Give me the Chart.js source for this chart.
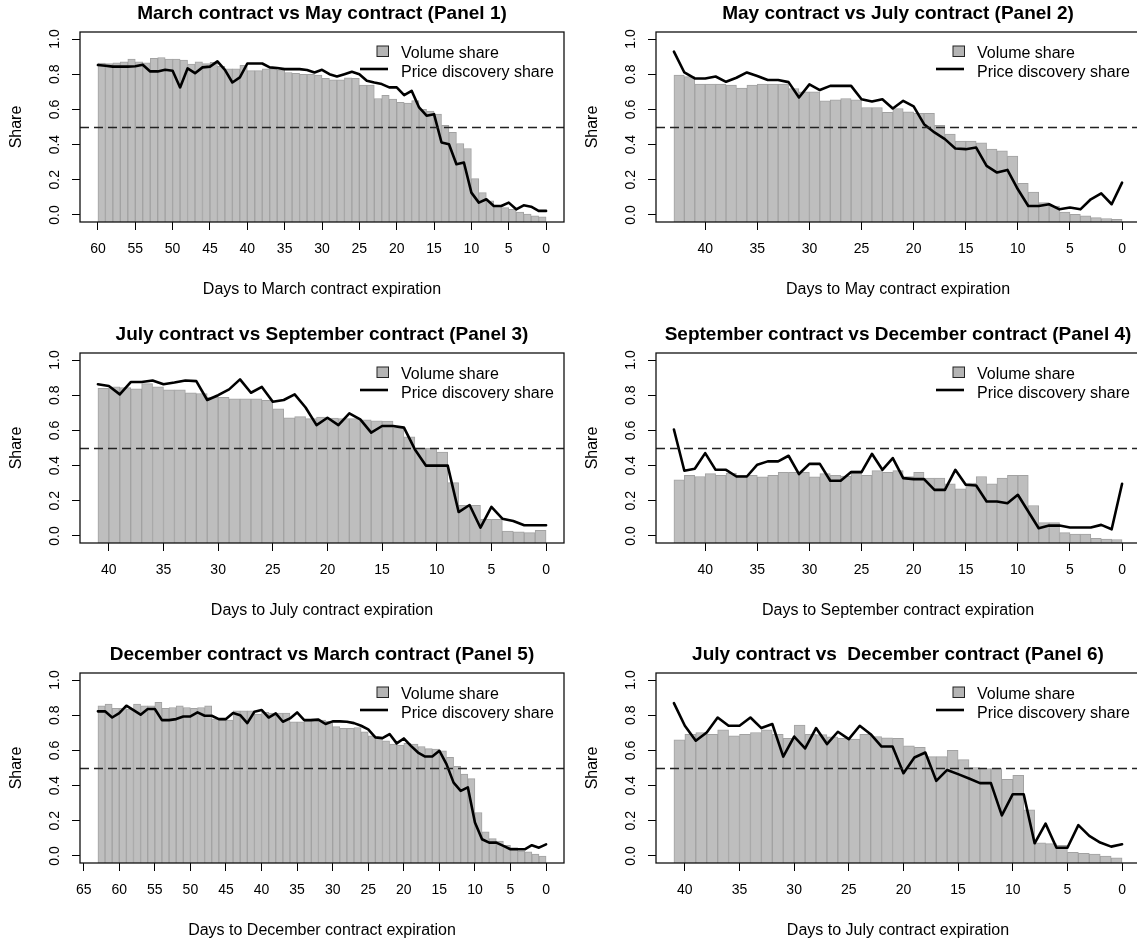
<!DOCTYPE html>
<html>
<head>
<meta charset="utf-8">
<script src="https://cdn.jsdelivr.net/npm/chart.js@4.4.1/dist/chart.umd.min.js"></script>
<style>
  html, body { margin: 0; padding: 0; background: #fff; overflow: hidden; }
  #wrap { position: relative; width: 1137px; height: 940px; overflow: hidden; }
  .panel { position: absolute; width: 576px; height: 320px; }
  .panel canvas { display: block; }
</style>
</head>
<body>
<div id="wrap"></div>
<script>
/* ========================================
   Datos
======================================== */
const panelTitles = [
  'March contract vs May contract (Panel 1)',
  'May contract vs July contract (Panel 2)',
  'July contract vs September contract (Panel 3)',
  'September contract vs December contract (Panel 4)',
  'December contract vs March contract (Panel 5)',
  'July contract vs  December contract (Panel 6)'
];
const xTitles = [
  'Days to March contract expiration',
  'Days to May contract expiration',
  'Days to July contract expiration',
  'Days to September contract expiration',
  'Days to December contract expiration',
  'Days to July contract expiration'
];
const legendLabels = ['Volume share', 'Price discovery share'];
const yTitle = 'Share';

const yTicks   = [0, 0.2, 0.4, 0.6, 0.8, 1.0];
const xTicks60 = [60, 55, 50, 45, 40, 35, 30, 25, 20, 15, 10, 5, 0];
const xTicks40 = [40, 35, 30, 25, 20, 15, 10, 5, 0];
const xTicks65 = [65, 60, 55, 50, 45, 40, 35, 30, 25, 20, 15, 10, 5, 0];

// volumen: una barra por día (de más lejos a vencimiento); precio: un punto por día hasta 0
const vol1 = [0.863, 0.86, 0.865, 0.87, 0.886, 0.87, 0.865, 0.89, 0.895, 0.886, 0.886, 0.88, 0.858, 0.87, 0.86,
  0.867, 0.845, 0.83, 0.83, 0.85, 0.82, 0.82, 0.83, 0.83, 0.825, 0.81, 0.805, 0.80, 0.80, 0.795,
  0.776, 0.768, 0.768, 0.78, 0.776, 0.738, 0.738, 0.662, 0.68, 0.658, 0.64, 0.636, 0.65, 0.60, 0.59,
  0.573, 0.51, 0.469, 0.406, 0.378, 0.207, 0.127, 0.08, 0.051, 0.042, 0.032, 0.017, 0.005, -0.005, -0.01];
const price1 = [0.852, 0.848, 0.843, 0.843, 0.843, 0.845, 0.854, 0.816, 0.816, 0.825, 0.82, 0.725, 0.833, 0.806, 0.839,
  0.843, 0.873, 0.825, 0.753, 0.782, 0.861, 0.861, 0.861, 0.839, 0.835, 0.829, 0.829, 0.829, 0.824, 0.81,
  0.825, 0.80, 0.787, 0.80, 0.814, 0.80, 0.763, 0.753, 0.744, 0.725, 0.725, 0.681, 0.706, 0.611, 0.564,
  0.573, 0.412, 0.402, 0.288, 0.298, 0.127, 0.07, 0.089, 0.051, 0.051, 0.07, 0.032, 0.055, 0.047, 0.023, 0.023];

const vol2 = [0.795, 0.786, 0.744, 0.744, 0.744, 0.738, 0.721, 0.738, 0.744, 0.744, 0.744, 0.719, 0.70, 0.70, 0.649,
  0.655, 0.662, 0.655, 0.611, 0.611, 0.583, 0.605, 0.586, 0.577, 0.577, 0.51, 0.46, 0.42, 0.42, 0.41,
  0.375, 0.365, 0.335, 0.18, 0.13, 0.07, 0.05, 0.017, 0.004, -0.005, -0.015, -0.02, -0.025];
const price2 = [0.928, 0.81, 0.776, 0.776, 0.787, 0.757, 0.78, 0.81, 0.79, 0.767, 0.767, 0.755, 0.668, 0.742, 0.71,
  0.734, 0.734, 0.734, 0.658, 0.645, 0.658, 0.605, 0.649, 0.617, 0.516, 0.469, 0.431, 0.378, 0.374, 0.383,
  0.279, 0.241, 0.256, 0.146, 0.051, 0.051, 0.061, 0.032, 0.042, 0.032, 0.089, 0.123, 0.061, 0.184];

const vol3 = [0.839, 0.847, 0.843, 0.837, 0.866, 0.847, 0.83, 0.83, 0.814, 0.81, 0.79, 0.788, 0.78, 0.78, 0.78,
  0.771, 0.723, 0.672, 0.678, 0.667, 0.676, 0.67, 0.667, 0.667, 0.66, 0.655, 0.653, 0.616, 0.564, 0.50,
  0.50, 0.477, 0.303, 0.174, 0.174, 0.095, 0.095, 0.028, 0.023, 0.019, 0.032];
const price3 = [0.862, 0.852, 0.805, 0.875, 0.875, 0.884, 0.862, 0.872, 0.884, 0.88, 0.773, 0.80, 0.833, 0.89, 0.814,
  0.847, 0.763, 0.773, 0.805, 0.73, 0.63, 0.672, 0.63, 0.697, 0.663, 0.587, 0.625, 0.625, 0.616, 0.492,
  0.40, 0.40, 0.40, 0.136, 0.176, 0.047, 0.165, 0.098, 0.085, 0.061, 0.061, 0.061];

const vol4 = [0.319, 0.344, 0.338, 0.354, 0.344, 0.357, 0.344, 0.344, 0.336, 0.344, 0.361, 0.361, 0.361, 0.336, 0.354,
  0.344, 0.34, 0.37, 0.344, 0.371, 0.361, 0.371, 0.338, 0.361, 0.329, 0.329, 0.297, 0.268, 0.30, 0.338,
  0.297, 0.329, 0.344, 0.344, 0.173, 0.076, 0.076, 0.019, 0.01, 0.01, -0.013, -0.018, -0.02];
const price4 = [0.605, 0.371, 0.382, 0.471, 0.376, 0.376, 0.338, 0.338, 0.405, 0.424, 0.424, 0.456, 0.352, 0.41, 0.41,
  0.314, 0.314, 0.363, 0.363, 0.467, 0.376, 0.443, 0.329, 0.323, 0.323, 0.262, 0.262, 0.376, 0.291, 0.287,
  0.196, 0.196, 0.186, 0.234, 0.139, 0.044, 0.059, 0.059, 0.048, 0.048, 0.048, 0.063, 0.038, 0.297];

const vol5 = [0.854, 0.863, 0.839, 0.839, 0.835, 0.863, 0.854, 0.854, 0.873, 0.839, 0.844, 0.854, 0.844, 0.839, 0.844,
  0.854, 0.78, 0.772, 0.772, 0.825, 0.825, 0.825, 0.806, 0.816, 0.812, 0.812, 0.812, 0.763, 0.763, 0.768,
  0.78, 0.772, 0.765, 0.735, 0.725, 0.725, 0.73, 0.706, 0.683, 0.674, 0.655, 0.636, 0.63, 0.64, 0.636,
  0.622, 0.61, 0.607, 0.598, 0.56, 0.51, 0.465, 0.44, 0.247, 0.137, 0.099, 0.085, 0.061, 0.047, 0.028,
  0.023, 0.01, 0.0];
const price5 = [0.822, 0.822, 0.787, 0.812, 0.854, 0.829, 0.803, 0.835, 0.835, 0.772, 0.772, 0.778, 0.793, 0.793, 0.816,
  0.797, 0.797, 0.778, 0.778, 0.812, 0.80, 0.755, 0.82, 0.83, 0.787, 0.81, 0.763, 0.782, 0.816, 0.772,
  0.772, 0.775, 0.75, 0.765, 0.765, 0.763, 0.755, 0.74, 0.72, 0.674, 0.67, 0.693, 0.64, 0.668, 0.626,
  0.588, 0.565, 0.565, 0.598, 0.522, 0.417, 0.37, 0.39, 0.19, 0.095, 0.076, 0.076, 0.057, 0.038, 0.038,
  0.038, 0.061, 0.047, 0.066];

const vol6 = [0.66, 0.692, 0.702, 0.692, 0.717, 0.683, 0.692, 0.702, 0.717, 0.692, 0.668, 0.744, 0.692, 0.69, 0.677,
  0.668, 0.664, 0.692, 0.679, 0.672, 0.668, 0.626, 0.617, 0.565, 0.565, 0.60, 0.548, 0.503, 0.497, 0.497,
  0.436, 0.459, 0.262, 0.075, 0.07, 0.06, 0.02, 0.015, 0.01, 0.0, -0.01];
const price6 = [0.869, 0.74, 0.655, 0.702, 0.787, 0.74, 0.74, 0.787, 0.727, 0.75, 0.565, 0.679, 0.611, 0.727, 0.636,
  0.706, 0.664, 0.74, 0.692, 0.622, 0.622, 0.47, 0.56, 0.588, 0.427, 0.489, 0.465, 0.44, 0.414, 0.414,
  0.231, 0.351, 0.351, 0.072, 0.184, 0.047, 0.047, 0.175, 0.114, 0.076, 0.053, 0.066];

/* ========================================
   Estilos
======================================== */
const FONT = '"Liberation Sans", Arial, Helvetica, sans-serif';
Chart.defaults.font.family = FONT;
Chart.defaults.color = '#000';

const PANEL_W = 576, PANEL_H = 320;
const rowTops = [0, 321, 641];

/* ========================================
   Plugin: caja, línea 0.5, título y leyenda
======================================== */
const panelDecor = {
  id: 'panelDecor',
  afterDatasetsDraw(chart, args, opts) {
    const { ctx, chartArea: a, scales: { y } } = chart;
    ctx.save();

    // línea discontinua en 0.5
    const yh = Math.round(y.getPixelForValue(0.5)) + 0.5;
    ctx.strokeStyle = '#222';
    ctx.lineWidth = 1.3;
    ctx.setLineDash([9, 5]);
    ctx.beginPath();
    ctx.moveTo(a.left, yh);
    ctx.lineTo(a.right, yh);
    ctx.stroke();
    ctx.setLineDash([]);

    // caja
    ctx.strokeStyle = '#111';
    ctx.lineWidth = 1.3;
    ctx.strokeRect(a.left, a.top, a.right - a.left, a.bottom - a.top);

    // título
    ctx.fillStyle = '#000';
    ctx.font = `bold 19px ${FONT}`;
    ctx.textAlign = 'center';
    ctx.textBaseline = 'alphabetic';
    ctx.fillText(opts.title, (a.left + a.right) / 2, a.top - 13);

    // leyenda (arriba a la derecha)
    const tx = a.right - 163;
    ctx.fillStyle = '#b4b4b4';
    ctx.strokeStyle = '#222';
    ctx.lineWidth = 1;
    ctx.fillRect(a.right - 187, a.top + 14, 11.5, 10.5);
    ctx.strokeRect(a.right - 187, a.top + 14, 11.5, 10.5);
    ctx.strokeStyle = '#000';
    ctx.lineWidth = 2.6;
    ctx.beginPath();
    ctx.moveTo(a.right - 204, a.top + 37);
    ctx.lineTo(a.right - 176, a.top + 37);
    ctx.stroke();

    ctx.fillStyle = '#000';
    ctx.font = `16px ${FONT}`;
    ctx.textAlign = 'left';
    ctx.fillText(legendLabels[0], tx, a.top + 25.5);
    ctx.fillText(legendLabels[1], tx, a.top + 44.5);

    ctx.restore();
  }
};

/* ========================================
   Construcción de cada panel
======================================== */
const wrap = document.getElementById('wrap');

const buildPanel = (idx, vol, price, xTicks) => {
  const n = price.length - 1;
  const pad = n * 0.04;

  const box = document.createElement('div');
  box.className = 'panel';
  box.style.left = `${(idx % 2) * PANEL_W}px`;
  box.style.top = `${rowTops[Math.floor(idx / 2)]}px`;
  const canvas = document.createElement('canvas');
  canvas.width = PANEL_W;
  canvas.height = PANEL_H;
  box.appendChild(canvas);
  wrap.appendChild(box);

  // eslint-disable-next-line no-unused-vars
  const chart = new Chart(canvas.getContext('2d'), {
    type: 'bar',
    data: {
      datasets: [{
        type: 'line',
        label: legendLabels[1],
        data: price.map((v, i) => ({ x: n - i, y: v })),
        borderColor: '#000',
        borderWidth: 2.6,
        borderJoinStyle: 'round',
        borderCapStyle: 'round',
        pointRadius: 0,
        tension: 0,
        order: 0
      }, {
        type: 'bar',
        label: legendLabels[0],
        data: vol.map((v, i) => ({ x: n - i - 0.5, y: v })),
        backgroundColor: '#bebebe',
        borderColor: '#a2a2a2',
        borderWidth: 1,
        base: -0.04,
        barPercentage: 1,
        categoryPercentage: 1,
        order: 1
      }]
    },
    options: {
      responsive: false,
      animation: false,
      events: [],
      layout: { padding: { top: 32, right: 12, left: 0, bottom: 0 } },
      plugins: {
        legend: { display: false },
        tooltip: { enabled: false },
        panelDecor: { title: panelTitles[idx] }
      },
      scales: {
        x: {
          type: 'linear',
          reverse: true,
          min: -pad,
          max: n + pad,
          offset: false,
          afterBuildTicks: s => { s.ticks = xTicks.map(v => ({ value: v })); },
          afterFit: s => { s.height = 98; },
          grid: { offset: false, drawOnChartArea: false, drawTicks: true, tickLength: 8, color: '#000', lineWidth: 1 },
          border: { display: false },
          ticks: { font: { size: 14 }, color: '#000', padding: 11, maxRotation: 0, autoSkip: false },
          title: { display: true, text: xTitles[idx], font: { size: 16 }, color: '#000', padding: { top: 0, bottom: 21 } }
        },
        y: {
          min: -0.04,
          max: 1.04,
          afterBuildTicks: s => { s.ticks = yTicks.map(v => ({ value: v })); },
          afterFit: s => { s.width = 80; },
          grid: { drawOnChartArea: false, drawTicks: true, tickLength: 8, color: '#000', lineWidth: 1 },
          border: { display: false },
          ticks: {
            font: { size: 14 }, color: '#000', padding: 7,
            minRotation: 90, maxRotation: 90, crossAlign: 'center',
            callback: v => v.toFixed(1)
          },
          title: { display: true, text: yTitle, font: { size: 16 }, color: '#000', padding: { top: 7, bottom: 0 } }
        }
      }
    },
    plugins: [panelDecor]
  });
};

buildPanel(0, vol1, price1, xTicks60);
buildPanel(1, vol2, price2, xTicks40);
buildPanel(2, vol3, price3, xTicks40);
buildPanel(3, vol4, price4, xTicks40);
buildPanel(4, vol5, price5, xTicks65);
buildPanel(5, vol6, price6, xTicks40);
</script>
</body>
</html>
